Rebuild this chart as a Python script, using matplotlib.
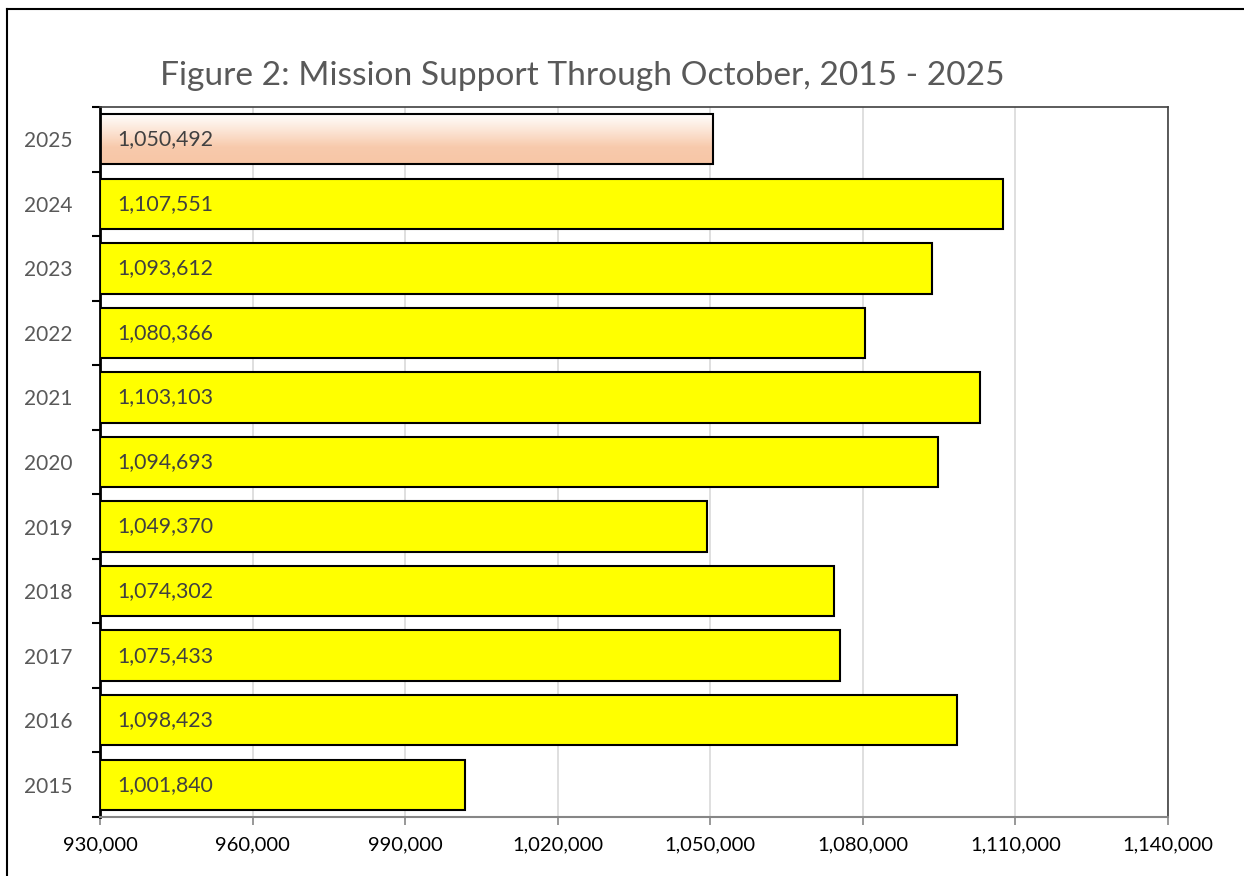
import matplotlib
matplotlib.use("Agg")
import matplotlib.pyplot as plt
import numpy as np
from matplotlib.ticker import FuncFormatter, FixedLocator
from matplotlib.colors import LinearSegmentedColormap
from matplotlib.lines import Line2D

years = ["2015", "2016", "2017", "2018", "2019", "2020", "2021", "2022", "2023", "2024", "2025"]
values = [1001840, 1098423, 1075433, 1074302, 1049370, 1094693, 1103103, 1080366, 1093612, 1107551, 1050492]
title = "Figure 2: Mission Support Through October, 2015 - 2025"
x_ticks = [930000, 960000, 990000, 1020000, 1050000, 1080000, 1110000, 1140000]

plt.rcParams['font.family'] = ['Lato', 'DejaVu Sans']

W, H = 1244, 876
fig = plt.figure(figsize=(W / 100, H / 100), dpi=100)
ax = fig.add_axes([100 / W, 1 - 817 / H, 1068 / W, 710 / H])

ypos = np.arange(len(years))
bars = ax.barh(ypos, [v - x_ticks[0] for v in values], left=x_ticks[0], height=0.78,
               color="#FFFF00", edgecolor="black", linewidth=1.5, zorder=3)

# gradient for the last (current) year
last = bars[-1]
last.set_facecolor("none")
cmap = LinearSegmentedColormap.from_list("peach", ["#F7C6A6", "#F8CAAC", "#FCE6D7", "#FFFFFF"])
grad = np.linspace(0, 1, 256).reshape(-1, 1)
x0, y0 = last.get_x(), last.get_y()
im = ax.imshow(grad, aspect="auto", cmap=cmap, origin="lower",
               extent=[x0, x0 + last.get_width(), y0, y0 + last.get_height()], zorder=2)
im.set_clip_path(last)

for i, v in enumerate(values):
    ax.text(x_ticks[0] + 3400, i, f"{v:,}", va="center", ha="left",
            fontsize=15.3, color="#404040", zorder=4)

ax.set_xlim(x_ticks[0], x_ticks[-1])
ax.set_ylim(-0.5, len(years) - 0.5)
ax.xaxis.set_major_locator(FixedLocator(x_ticks))
ax.xaxis.set_major_formatter(FuncFormatter(lambda v, p: f"{int(v):,}"))
ax.grid(axis="x", color="#D9D9D9", linewidth=1.2, zorder=0)
ax.set_axisbelow(True)

ax.set_yticks(ypos)
ax.set_yticklabels(years)
ax.yaxis.set_minor_locator(FixedLocator(np.arange(-0.5, len(years), 1.0)))
ax.tick_params(axis="y", which="major", length=0, pad=20, labelsize=15, labelcolor="#595959")
ax.tick_params(axis="y", which="minor", length=6, width=1.5, color="black", direction="out")
ax.tick_params(axis="x", which="major", length=6, width=1.2, color="#868686", labelsize=14.5,
               labelcolor="black", pad=8)

ax.spines["left"].set_color("black")
ax.spines["left"].set_linewidth(2)
ax.spines["bottom"].set_color("#868686")
ax.spines["bottom"].set_linewidth(1.5)
for s in ("top", "right"):
    ax.spines[s].set_color("#404040")
    ax.spines[s].set_linewidth(1.2)

fig.text(160 / W, 1 - 76 / H, title, ha="left", va="center", fontsize=24.1, color="#595959")

# outer frame lines (top and left)
fig.add_artist(Line2D([7 / W, 1], [1 - 8.5 / H, 1 - 8.5 / H], transform=fig.transFigure,
                      color="black", linewidth=1.5))
fig.add_artist(Line2D([7 / W, 7 / W], [0, 1 - 8.5 / H], transform=fig.transFigure,
                      color="black", linewidth=1.5))

fig.savefig("out.png", dpi=100)
